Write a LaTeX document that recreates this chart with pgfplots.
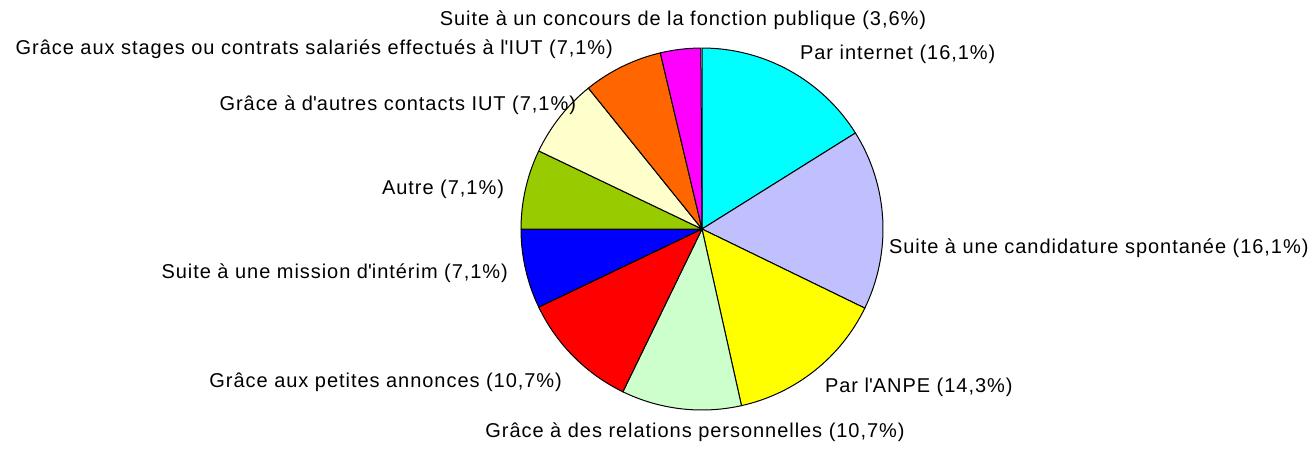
\documentclass[border=0pt]{standalone}
\usepackage{fontspec}
\setmainfont[LetterSpace=4.8]{Liberation Sans}
\usepackage{pgfplots}
\usepackage{pgfplotstable}
\pgfplotsset{compat=1.18}
\newcommand\ap{\textquotesingle}
\definecolor{cInternet}{HTML}{00FFFF}
\definecolor{cCand}{HTML}{C0C0FF}
\definecolor{cANPE}{HTML}{FFFF00}
\definecolor{cRel}{HTML}{CCFFCC}
\definecolor{cAnn}{HTML}{FF0000}
\definecolor{cInt}{HTML}{0000FF}
\definecolor{cAutre}{HTML}{99CC00}
\definecolor{cCont}{HTML}{FFFFCC}
\definecolor{cStage}{HTML}{FF6600}
\definecolor{cConc}{HTML}{FF00FF}
\pgfplotstableread[col sep=comma]{
pct,col
16.1,cInternet
16.1,cCand
14.3,cANPE
10.7,cRel
10.7,cAnn
7.1,cInt
7.1,cAutre
7.1,cCont
7.1,cStage
3.6,cConc
}\piedata
\begin{document}
\begin{tikzpicture}
\begin{axis}[
  scale only axis, width=656pt, height=222pt,
  xmin=0, xmax=1312, ymin=0, ymax=444,
  hide axis, clip=false,
  every node/.style={font=\fontsize{10.5}{12}\selectfont, inner sep=0pt},
]
\addplot[draw=none] coordinates {(0,0) (1312,444)};
\pgfplotsextra{
  \xdef\cum{90}
  \foreach \i in {0,...,9}{
    \pgfplotstablegetelem{\i}{pct}\of\piedata \let\v\pgfplotsretval
    \pgfplotstablegetelem{\i}{col}\of\piedata \let\c\pgfplotsretval
    \pgfmathsetmacro\aend{\cum-3.6*\v}
    \draw[fill=\c, line width=0.5pt, line join=round] (axis cs:702,215) -- ++(\cum:90.5pt) arc[start angle=\cum, end angle=\aend, radius=90.5pt] -- cycle;
    \xdef\cum{\aend}
  }
}
\node[anchor=center] at (axis cs:683,424) {Suite à un concours de la fonction publique (3,6\%)};
\node[anchor=east] at (axis cs:620,395) {Grâce aux stages ou contrats salariés effectués à l\ap IUT (7,1\%)};
\node[anchor=west] at (axis cs:793,390) {Par internet (16,1\%)};
\node[anchor=east] at (axis cs:583,339) {Grâce à d\ap autres contacts IUT (7,1\%)};
\node[anchor=east] at (axis cs:511,255) {Autre (7,1\%)};
\node[anchor=west, overlay] at (axis cs:882,196) {Suite à une candidature spontanée (16,1\%)};
\node[anchor=east] at (axis cs:515,171) {Suite à une mission d\ap intérim (7,1\%)};
\node[anchor=east] at (axis cs:569,62) {Grâce aux petites annonces (10,7\%)};
\node[anchor=west] at (axis cs:818,57) {Par l\ap ANPE (14,3\%)};
\node[anchor=center] at (axis cs:695,12) {Grâce à des relations personnelles (10,7\%)};
\end{axis}
\end{tikzpicture}
\end{document}
